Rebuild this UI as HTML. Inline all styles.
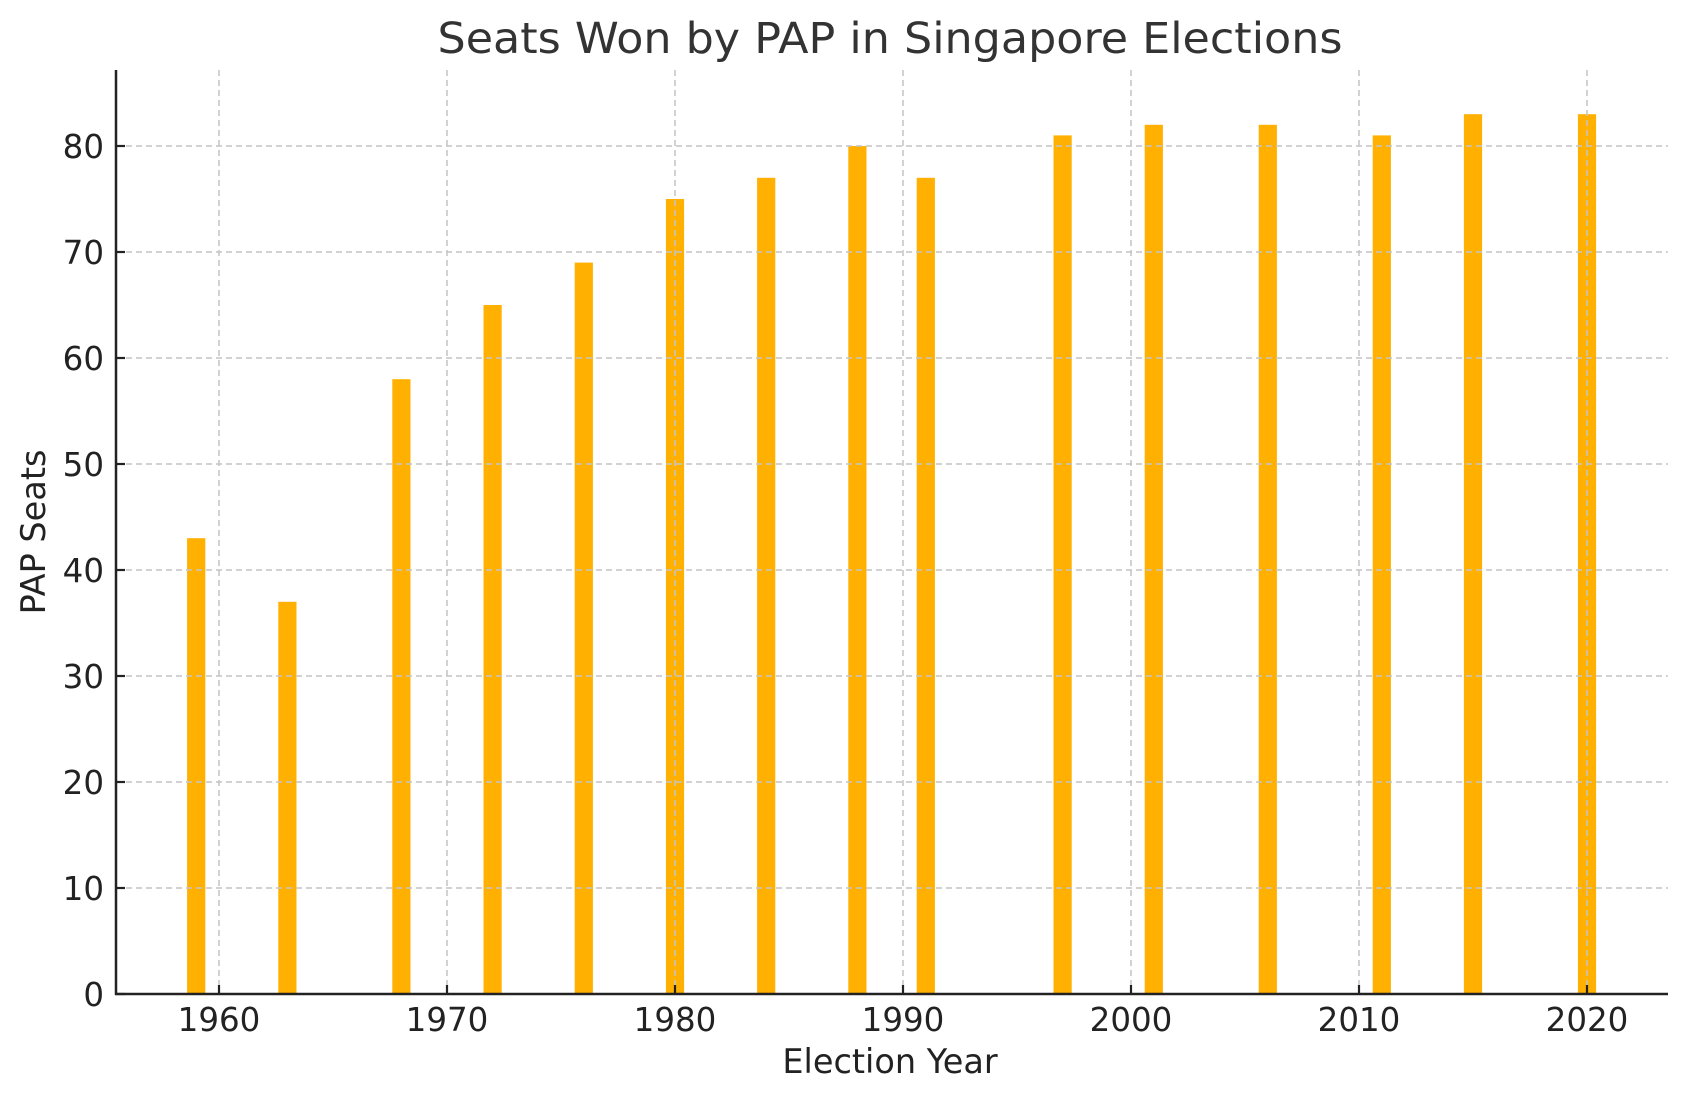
<!DOCTYPE html>
<html><head><meta charset="utf-8"><style>html,body{margin:0;padding:0;background:#fff}svg{display:block}</style></head>
<body>
<svg width="1686" height="1101" viewBox="0 0 1686 1101" xmlns="http://www.w3.org/2000/svg" font-family="DejaVu Sans, Liberation Sans, sans-serif">
<rect width="1686" height="1101" fill="#fff"/>
<g id="bars" fill="#FFB000"></g>
<g id="grid" stroke="#c4c4c4" stroke-width="1.5" stroke-dasharray="6,4"></g>
<g id="ticks" stroke="#222" stroke-width="2.2"></g>
<g id="labels" fill="#222" font-size="32.5"></g>
<line x1="116" y1="70" x2="116" y2="995" stroke="#222" stroke-width="2.5"/>
<line x1="115" y1="994" x2="1668" y2="994" stroke="#222" stroke-width="2.5"/>
<text x="890" y="53" text-anchor="middle" font-size="43" fill="#333" textLength="905" lengthAdjust="spacingAndGlyphs">Seats Won by PAP in Singapore Elections</text>
<text x="890" y="1073" text-anchor="middle" font-size="33.5" fill="#222">Election Year</text>
<text transform="translate(45,532) rotate(-90)" text-anchor="middle" font-size="33.5" fill="#222">PAP Seats</text>
<script>
(function(){
var ns="http://www.w3.org/2000/svg";
function X(y){return 219+(y-1960)*22.8;}
function Y(v){return 994-v*10.6;}
function el(p,t,a,txt){var e=document.createElementNS(ns,t);for(var k in a)e.setAttribute(k,a[k]);if(txt!==undefined)e.textContent=txt;document.getElementById(p).appendChild(e);}
var d=[[1959,43],[1963,37],[1968,58],[1972,65],[1976,69],[1980,75],[1984,77],[1988,80],[1991,77],[1997,81],[2001,82],[2006,82],[2011,81],[2015,83],[2020,83]];
d.forEach(function(p){var x=X(p[0]);el("bars","rect",{x:x-9.1,y:Y(p[1]),width:18.2,height:p[1]*10.6});});
for(var yr=1960;yr<=2020;yr+=10){var x=X(yr);
el("grid","line",{x1:x,y1:70,x2:x,y2:994});
el("ticks","line",{x1:x,y1:994,x2:x,y2:985});
el("labels","text",{x:x,y:1031,"text-anchor":"middle"},String(yr));}
for(var v=0;v<=80;v+=10){var y=Y(v);
if(v>0)el("grid","line",{x1:116,y1:y,x2:1668,y2:y});
el("ticks","line",{x1:116,y1:y,x2:125,y2:y});
el("labels","text",{x:104,y:y+12,"text-anchor":"end"},String(v));}
})();
</script>
</svg>
</body></html>
